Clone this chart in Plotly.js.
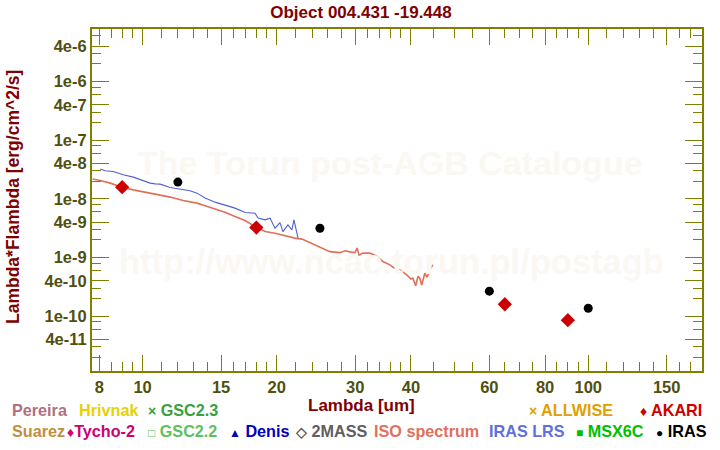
<!DOCTYPE html>
<html>
<head>
<meta charset="utf-8">
<script src="https://cdn.plot.ly/plotly-3.0.1.min.js"></script>
<style>html,body{margin:0;padding:0;background:#fff;}#chart{width:720px;height:450px;}</style>
</head>
<body>
<div id="chart"></div>
<script>
// ---- data (wavelength in um, lambda*F_lambda in erg/cm^2/s) ----
const isoWave = [7.72,8.04,8.46,9.00,9.53,10.03,10.78,11.53,12.33,13.25,13.81,14.54,15.31,16.12,16.98,17.88,18.83,19.82,20.87,21.98,22.79,23.74,25.0,26.32,27.72,28.5,29.19,29.95,30.3,30.6,31.21,32.36,33.0,33.56,34.61,35.88,36.8,37.78,39.17,40.0,40.4,41.0,41.5,41.88,42.3,42.98,43.5,44.1,44.79];
const isoFlux = [2.17e-8,2.05e-8,1.85e-8,1.58e-8,1.42e-8,1.32e-8,1.20e-8,1.07e-8,9.35e-9,8.45e-9,7.60e-9,6.75e-9,5.93e-9,4.99e-9,4.27e-9,3.37e-9,2.77e-9,2.60e-9,2.34e-9,2.14e-9,2.06e-9,1.80e-9,1.50e-9,1.26e-9,1.21e-9,1.30e-9,1.25e-9,1.21e-9,1.45e-9,1.10e-9,1.19e-9,1.19e-9,1.12e-9,1.04e-9,8.53e-10,7.49e-10,6.5e-10,6.16e-10,5.06e-10,4.3e-10,4.45e-10,3.3e-10,4.8e-10,4.45e-10,3.4e-10,5.41e-10,4.6e-10,6.16e-10,7.49e-10];

const lrsWave = [8.04,8.24,8.59,9.05,9.53,10.03,10.40,10.67,10.95,11.53,12.14,12.78,13.25,13.81,14.54,15.31,16.12,16.98,17.88,18.16,18.83,19.32,19.82,20.34,20.65,21.19,21.63,21.86,22.20,22.32];
const lrsFlux = [3.21e-8,3.00e-8,2.92e-8,2.57e-8,2.34e-8,2.05e-8,1.85e-8,1.80e-8,1.78e-8,1.56e-8,1.46e-8,1.37e-8,1.25e-8,1.03e-8,8.78e-9,7.90e-9,6.94e-9,5.84e-9,5.70e-9,4.69e-9,4.39e-9,4.69e-9,3.16e-9,3.94e-9,2.77e-9,3.60e-9,2.96e-9,4.39e-9,2.43e-9,2.16e-9];

const akariWave = [9, 18, 65, 90];
const akariFlux = [1.58e-8, 3.24e-9, 1.60e-10, 8.55e-11];

const irasWave = [12, 25, 60, 100];
const irasFlux = [1.93e-8, 3.16e-9, 2.67e-10, 1.37e-10];

const xTickVals = [8,10,15,20,30,40,60,80,100,150];
const xTickText = ['8','10','15','20','30','40','60','80','100','150'];
const xMinorVals = [8.5,9,9.5,11,12,13,14,16,17,18,19,22,24,26,28,32,34,36,38,45,50,55,65,70,75,85,90,95,110,120,130,140,160,170];
const yTickVals = [4e-6,1e-6,4e-7,1e-7,4e-8,1e-8,4e-9,1e-9,4e-10,1e-10,4e-11];
const yTickText = ['4e-6','1e-6','4e-7','1e-7','4e-8','1e-8','4e-9','1e-9','4e-10','1e-10','4e-11'];
const yMinorMant = [2,3,6,8];

const titleText = 'Object 004.431 -19.448';
const xTitle = 'Lambda [um]';
const yTitle = 'Lambda*Flambda [erg/cm^2/s]';

// legend rows: [text, colour, left px]
const S = (c, fs) => '<span style="font-size:' + fs + 'px">' + c + '</span>';
const legendRow1 = [
  ['Pereira', '#b07080', 10],
  ['Hrivnak', '#e6d200', 77],
  [S('×', 14) + ' GSC2.3', '#3aa040', 146],
  [S('×', 14) + ' ALLWISE', '#e0a000', 527],
  [S('♦', 14) + ' AKARI', '#d00000', 638]
];
const legendRow2 = [
  ['Suarez', '#c09040', 10],
  [S('♦', 14) + 'Tycho-2', '#d00070', 65],
  [S('□', 12) + ' GSC2.2', '#60c060', 146],
  [S('▲', 12) + ' Denis', '#0000c0', 227],
  [S('◇', 14) + ' 2MASS', '#606060', 293],
  ['ISO spectrum', '#e07060', 372],
  ['IRAS LRS', '#6070d8', 487],
  [S('■', 12) + ' MSX6C', '#00c000', 574],
  [S('●', 12) + ' IRAS', '#000000', 654]
];

// ---- layout geometry ----
const W = 720, H = 450, ML = 92, MR = 18, MT = 29, MB = 79;
const PW = W - ML - MR, PH = H - MT - MB;
const px2x = p => (p - ML) / PW;
const py2y = p => (H - MB - p) / PH;

const yMinorVals = [];
for (let e = -11; e <= -6; e++) yMinorMant.forEach(m => yMinorVals.push(m * Math.pow(10, e)));

const olive = '#808000';
const FAM = 'Liberation Sans, Arial, sans-serif';
const tickFont = {family: FAM, size: 16.5, color: '#505010', weight: 'bold'};

const traces = [
  {x: isoWave, y: isoFlux, type: 'scatter', mode: 'lines', line: {color: '#e07058', width: 1.6}, name: 'ISO spectrum', hoverinfo: 'skip'},
  {x: lrsWave, y: lrsFlux, type: 'scatter', mode: 'lines', line: {color: '#5060d0', width: 1.1}, name: 'IRAS LRS', hoverinfo: 'skip'},
  {x: akariWave, y: akariFlux, type: 'scatter', mode: 'markers', marker: {symbol: 'diamond', size: 11, color: '#cc0000'}, name: 'AKARI'},
  {x: irasWave, y: irasFlux, type: 'scatter', mode: 'markers', marker: {symbol: 'circle', size: 9, color: '#000000'}, name: 'IRAS'}
];

const annotations = [];
const legFont = (c) => ({family: FAM, size: 16.2, color: c, weight: 'bold'});
legendRow1.forEach(r => annotations.push({text: r[0], x: px2x(r[2]), y: py2y(410), xref: 'paper', yref: 'paper', xanchor: 'left', yanchor: 'middle', showarrow: false, font: legFont(r[1])}));
legendRow2.forEach(r => annotations.push({text: r[0], x: px2x(r[2]), y: py2y(431), xref: 'paper', yref: 'paper', xanchor: 'left', yanchor: 'middle', showarrow: false, font: legFont(r[1])}));
// axis titles
annotations.push({text: xTitle, x: px2x(361), y: py2y(405), xref: 'paper', yref: 'paper', xanchor: 'center', yanchor: 'middle', showarrow: false, font: {family: FAM, size: 17, color: '#800000', weight: 'bold'}});
annotations.push({text: yTitle, x: px2x(13), y: py2y(197), xref: 'paper', yref: 'paper', xanchor: 'center', yanchor: 'middle', textangle: -90, showarrow: false, font: {family: FAM, size: 17.5, color: '#800000', weight: 'bold'}});
// watermarks
annotations.push({text: 'The Torun post-AGB Catalogue', x: px2x(390), y: py2y(163), xref: 'paper', yref: 'paper', xanchor: 'center', yanchor: 'middle', showarrow: false, font: {family: FAM, size: 34, color: '#fbf8f3', weight: 'bold'}});
annotations.push({text: 'http://www.ncac.torun.pl/postagb', x: px2x(391), y: py2y(262), xref: 'paper', yref: 'paper', xanchor: 'center', yanchor: 'middle', showarrow: false, font: {family: FAM, size: 34.5, color: '#fbf8f3', weight: 'bold'}});

const layout = {
  width: W, height: H,
  margin: {l: ML, r: MR, t: MT, b: MB, pad: 0},
  paper_bgcolor: '#ffffff', plot_bgcolor: '#ffffff',
  showlegend: false,
  title: {text: titleText, x: 361 / W, xref: 'container', xanchor: 'center', y: 1 - 12 / H, yref: 'container', yanchor: 'middle',
          font: {family: FAM, size: 17, color: '#800000', weight: 'bold'}},
  xaxis: {
    type: 'log', range: [Math.log10(7.7), Math.log10(180)],
    tickmode: 'array', tickvals: xTickVals, ticktext: xTickText,
    ticks: 'inside', ticklen: 16, tickwidth: 1, tickcolor: olive,
    showline: true, linecolor: olive, linewidth: 2, mirror: 'ticks',
    showgrid: false, zeroline: false, tickfont: tickFont,
    minor: {tickmode: 'array', tickvals: xMinorVals, ticks: 'inside', ticklen: 9, tickwidth: 1, tickcolor: olive, showgrid: false}
  },
  yaxis: {
    type: 'log', range: [-10.933, -5.107],
    tickmode: 'array', tickvals: yTickVals, ticktext: yTickText,
    ticks: 'inside', ticklen: 17, tickwidth: 1, tickcolor: olive,
    showline: true, linecolor: olive, linewidth: 2, mirror: 'ticks',
    showgrid: false, zeroline: false, tickfont: tickFont,
    minor: {tickmode: 'array', tickvals: yMinorVals, ticks: 'inside', ticklen: 9, tickwidth: 1, tickcolor: olive, showgrid: false}
  },
  annotations: annotations
};

Plotly.newPlot('chart', traces, layout, {staticPlot: true, displayModeBar: false});
</script>
</body>
</html>
